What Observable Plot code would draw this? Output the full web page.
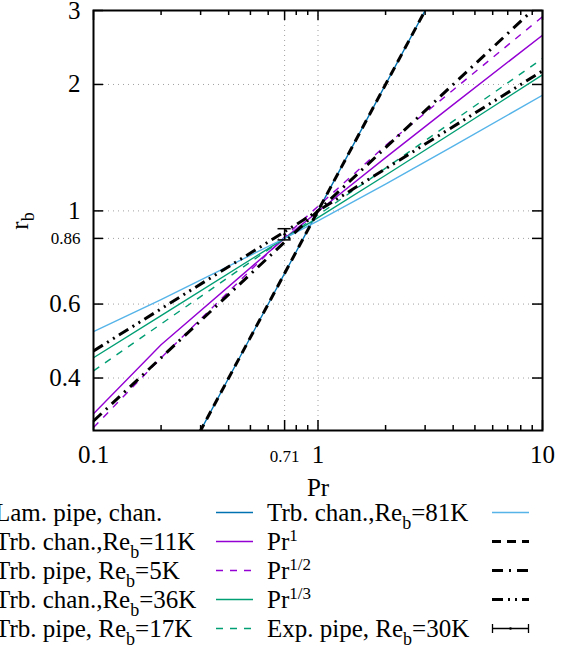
<!DOCTYPE html>
<html><head><meta charset="utf-8">
<script src="https://cdn.jsdelivr.net/npm/d3@7"></script>
<script src="https://cdn.jsdelivr.net/npm/@observablehq/plot@0.6"></script>
<style>
html,body{margin:0;padding:0;background:#fff;}
body{width:568px;height:647px;overflow:hidden;position:relative;font-family:"Liberation Serif",serif;}
#chart{position:absolute;left:0;top:0;}
#legend{position:absolute;left:0;top:498px;width:568px;height:149px;font-size:25px;color:#000;}
.lt{position:absolute;height:29px;line-height:29px;white-space:nowrap;}
.ls{position:absolute;height:29px;}
.sub{font-size:18px;vertical-align:-8px;line-height:0;}
.sup{font-size:17px;vertical-align:9px;line-height:0;}
</style>
</head><body>
<div id="chart"></div>
<div id="legend"></div>
<script>
// ---- data ----
const pr = [0.1, 0.2, 0.71, 1, 2, 4, 10];
const trbChan81K = [0.516, 0.615, 0.86, 0.947, 1.158, 1.426, 1.886];
const trbChan36K = [0.447, 0.563, 0.86, 0.964, 1.216, 1.539, 2.108];
const trbPipe17K = [0.416, 0.538, 0.86, 0.977, 1.264, 1.636, 2.305];
const trbChan11K = [0.329, 0.480, 0.86, 0.997, 1.339, 1.791, 2.620];
const trbPipe5K  = [0.305, 0.447, 0.867, 1.026, 1.431, 1.941, 2.900];
const lamPr = [0.1, 1, 10];
const lamPipeChan = [0.1, 1, 10];
const refPr = [0.1, 1, 10];
const prPow1 = [0.1, 1, 10];
const prPowHalf = [0.316, 1, 3.162];
const prPowThird = [0.464, 1, 2.154];
const expPr = [0.71];
const expPipe30K = [0.88];
const expLow = [0.853];
const expHigh = [0.907];
const xMajorTicks = [0.1, 0.71, 1, 10];
const xMinorTicks = [0.2, 0.3, 0.4, 0.5, 0.6, 0.8, 0.9, 2, 3, 4, 5, 6, 7, 8, 9];
const xBigLabels = [0.1, 1, 10];
const xSmallLabels = [0.71];
const yTicks = [0.4, 0.6, 0.86, 1, 2, 3];
const yBigLabels = [0.4, 0.6, 1, 2, 3];
const ySmallLabels = [0.86];
const xGrid = [0.71, 1];
const yGrid = [0.4, 0.6, 0.86, 1, 2];
const legendLabels = [
  "Lam. pipe, chan.",
  "Trb. chan.,Re<span class='sub'>b</span>=11K",
  "Trb. pipe, Re<span class='sub'>b</span>=5K",
  "Trb. chan.,Re<span class='sub'>b</span>=36K",
  "Trb. pipe, Re<span class='sub'>b</span>=17K",
  "Trb. chan.,Re<span class='sub'>b</span>=81K",
  "Pr<span class='sup'>1</span>",
  "Pr<span class='sup'>1/2</span>",
  "Pr<span class='sup'>1/3</span>",
  "Exp. pipe, Re<span class='sub'>b</span>=30K"
];

// ---- tables ----
const tbl = (xs, ys) => xs.map((x, i) => ({Pr: x, rb: ys[i]}));
const expTable = expPr.map((x, i) => ({Pr: x, rb: expPipe30K[i], lo: expLow[i], hi: expHigh[i]}));

const styles = [
  {data: tbl(lamPr, lamPipeChan), stroke: "#0072b2", w: 1.4, dash: null},
  {data: tbl(pr, trbChan11K), stroke: "#9400d3", w: 1.4, dash: null},
  {data: tbl(pr, trbPipe5K), stroke: "#9400d3", w: 1.4, dash: "7,7"},
  {data: tbl(pr, trbChan36K), stroke: "#009e73", w: 1.4, dash: null},
  {data: tbl(pr, trbPipe17K), stroke: "#009e73", w: 1.4, dash: "7,7"},
  {data: tbl(pr, trbChan81K), stroke: "#56b4e9", w: 1.4, dash: null},
  {data: tbl(refPr, prPow1), stroke: "black", w: 3, dash: "9,6"},
  {data: tbl(refPr, prPowHalf), stroke: "black", w: 3, dash: "11,6,2,6"},
  {data: tbl(refPr, prPowThird), stroke: "black", w: 3, dash: "11,5,2,5,2,5"}
];

const innerW = 568 - 93 - 26, innerH = 500 - 10 - 70;
const font = "Liberation Serif";

const chart = Plot.plot({
  width: 568, height: 500,
  marginLeft: 93, marginRight: 26, marginTop: 10, marginBottom: 70,
  x: {type: "log", domain: [0.1, 10]},
  y: {type: "log", domain: [0.3, 3]},
  style: {fontFamily: font, background: "white", color: "black", overflow: "visible"},
  marks: [
    Plot.ruleX(xGrid, {x: d => d, stroke: "#a0a0a0", strokeWidth: 1, strokeDasharray: "1,4"}),
    Plot.ruleY(yGrid, {y: d => d, stroke: "#a0a0a0", strokeWidth: 1, strokeDasharray: "1,4"}),
    ...styles.map(s => Plot.line(s.data, {x: "Pr", y: "rb", stroke: s.stroke, strokeWidth: s.w,
      strokeDasharray: s.dash, clip: true, strokeLinecap: "butt"})),
    Plot.ruleX(expTable, {x: "Pr", y1: "lo", y2: "hi", stroke: "black", strokeWidth: 1.5}),
    Plot.ruleY(expTable, {y: "lo", x1: d => d.Pr / 1.07, x2: d => d.Pr * 1.07, stroke: "black", strokeWidth: 1.5}),
    Plot.ruleY(expTable, {y: "hi", x1: d => d.Pr / 1.07, x2: d => d.Pr * 1.07, stroke: "black", strokeWidth: 1.5}),
    Plot.dot(expTable, {x: "Pr", y: "rb", r: 1.3, fill: "black", stroke: null}),
    // inward ticks
    Plot.ruleX(xMajorTicks, {x: d => d, insetTop: innerH - 10, stroke: "black", strokeWidth: 1.5}),
    Plot.ruleX(xMajorTicks, {x: d => d, insetBottom: innerH - 10, stroke: "black", strokeWidth: 1.5}),
    Plot.ruleX(xMinorTicks, {x: d => d, insetTop: innerH - 5, stroke: "black", strokeWidth: 1.5}),
    Plot.ruleX(xMinorTicks, {x: d => d, insetBottom: innerH - 5, stroke: "black", strokeWidth: 1.5}),
    Plot.ruleY(yTicks, {y: d => d, insetRight: innerW - 10, stroke: "black", strokeWidth: 1.5}),
    Plot.ruleY(yTicks, {y: d => d, insetLeft: innerW - 10, stroke: "black", strokeWidth: 1.5}),
    Plot.frame({stroke: "black", strokeWidth: 2}),
    // tick labels
    Plot.axisX(xBigLabels, {anchor: "bottom", tickSize: 0, tickPadding: 15, fontSize: 25, fontFamily: font, tickFormat: d => String(d), label: null}),
    Plot.text(xSmallLabels, {x: d => d, frameAnchor: "bottom", dy: 19, lineAnchor: "top", fontSize: 17, fontFamily: font, fill: "black", text: d => String(d)}),
    Plot.axisY(yBigLabels, {anchor: "left", tickSize: 0, tickPadding: 13, fontSize: 25, fontFamily: font, tickFormat: d => String(d), label: null}),
    Plot.axisY(ySmallLabels, {anchor: "left", tickSize: 0, tickPadding: 13, fontSize: 17, fontFamily: font, tickFormat: d => String(d), label: null}),
    Plot.text(["Pr"], {frameAnchor: "bottom", dy: 65, lineAnchor: "bottom", fontSize: 25, fontFamily: font, fill: "black"})
  ]
});
document.getElementById("chart").appendChild(chart);

// y-axis label with subscript
const ylab = d3.select(chart).append("text")
  .attr("transform", "translate(28,221) rotate(-90)")
  .attr("text-anchor", "middle")
  .attr("font-family", font).attr("font-size", 25).attr("fill", "black");
ylab.append("tspan").text("r");
ylab.append("tspan").attr("font-size", 18).attr("dy", 6).text("b");

// ---- legend ----
const legend = d3.select("#legend");
const colText = [-5, 267];
const colSample = [216, 492];
const sampleW = 37;
const rowStep = 29;
legendLabels.forEach((lab, i) => {
  const col = i < 5 ? 0 : 1, row = i % 5;
  const top = row * rowStep;
  legend.append("div").attr("class", "lt")
    .style("left", colText[col] + "px").style("top", top + "px").html(lab);
  const svg = legend.append("svg").attr("class", "ls")
    .attr("width", sampleW + 4).attr("height", 29)
    .style("left", (colSample[col] - 2) + "px").style("top", top + "px");
  if (i < styles.length) {
    const s = styles[i];
    svg.append("line").attr("x1", 2).attr("x2", 2 + sampleW).attr("y1", 14.5).attr("y2", 14.5)
      .attr("stroke", s.stroke).attr("stroke-width", s.w)
      .attr("stroke-dasharray", s.dash);
  } else {
    svg.append("line").attr("x1", 2).attr("x2", 2 + sampleW).attr("y1", 14.5).attr("y2", 14.5)
      .attr("stroke", "black").attr("stroke-width", 1.3);
    [2.5, 1.5 + sampleW].forEach(x => svg.append("line").attr("x1", x).attr("x2", x)
      .attr("y1", 10).attr("y2", 19).attr("stroke", "black").attr("stroke-width", 1.3));
    svg.append("circle").attr("cx", 2 + sampleW / 2).attr("cy", 14.5).attr("r", 1.3).attr("fill", "black");
  }
});
</script>
</body></html>
